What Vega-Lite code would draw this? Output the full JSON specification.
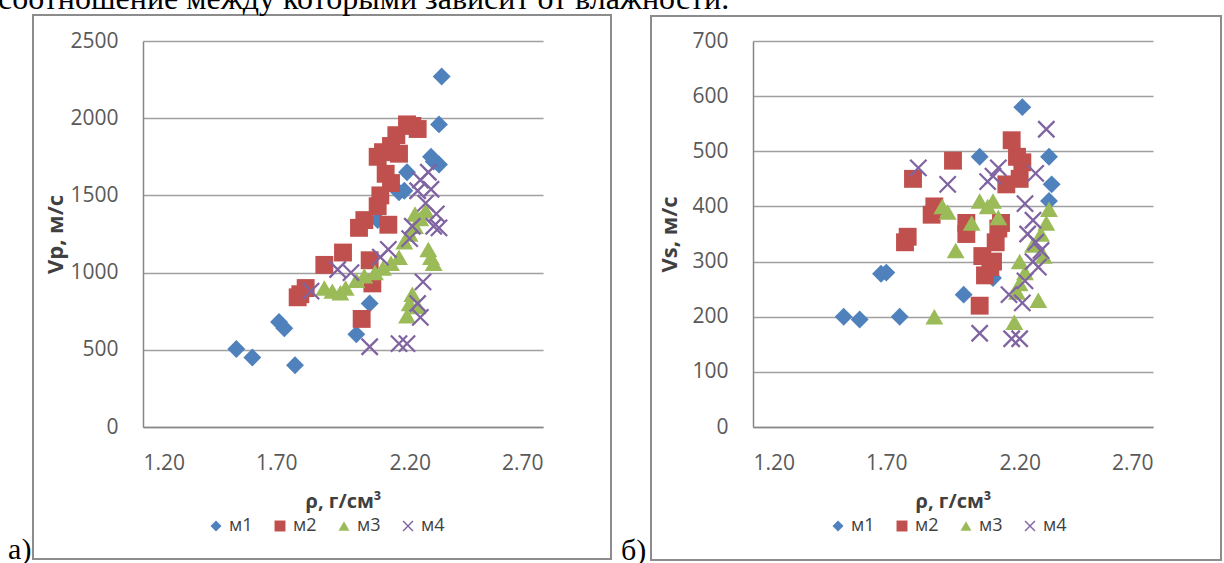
{
  "$schema": "https://vega.github.io/schema/vega-lite/v6.json",
  "padding": {"left": -2, "top": -17, "right": 0, "bottom": 0},
  "background": "white",
  "title": {
    "text": "соотношение между которыми зависит от влажности.",
    "font": "Liberation Serif",
    "fontSize": 32,
    "fontWeight": "normal",
    "color": "#000000",
    "anchor": "start",
    "frame": "bounds",
    "baseline": "alphabetic",
    "offset": -27,
    "dx": -10
  },
  "spacing": 9,
  "datasets": {
    "vp": [
      {"rho": 1.55, "v": 505, "series": "м1"}, {"rho": 1.61, "v": 450, "series": "м1"}, {"rho": 1.71, "v": 680, "series": "м1"}, {"rho": 1.73, "v": 640, "series": "м1"}, {"rho": 1.77, "v": 400, "series": "м1"}, {"rho": 2.0, "v": 600, "series": "м1"}, {"rho": 2.05, "v": 800, "series": "м1"}, {"rho": 2.08, "v": 1340, "series": "м1"}, {"rho": 2.16, "v": 1520, "series": "м1"}, {"rho": 2.18, "v": 1530, "series": "м1"}, {"rho": 2.19, "v": 1650, "series": "м1"}, {"rho": 2.29, "v": 1720, "series": "м1"}, {"rho": 2.31, "v": 1700, "series": "м1"}, {"rho": 2.28, "v": 1750, "series": "м1"}, {"rho": 2.31, "v": 1960, "series": "м1"}, {"rho": 2.32, "v": 2270, "series": "м1"},
      {"rho": 1.78, "v": 840, "series": "м2"}, {"rho": 1.79, "v": 860, "series": "м2"}, {"rho": 1.81, "v": 900, "series": "м2"}, {"rho": 1.88, "v": 1050, "series": "м2"}, {"rho": 1.95, "v": 1130, "series": "м2"}, {"rho": 2.01, "v": 1290, "series": "м2"}, {"rho": 2.02, "v": 700, "series": "м2"}, {"rho": 2.03, "v": 1340, "series": "м2"}, {"rho": 2.05, "v": 1080, "series": "м2"}, {"rho": 2.06, "v": 930, "series": "м2"}, {"rho": 2.08, "v": 1430, "series": "м2"}, {"rho": 2.08, "v": 1750, "series": "м2"}, {"rho": 2.09, "v": 1500, "series": "м2"}, {"rho": 2.1, "v": 1780, "series": "м2"}, {"rho": 2.11, "v": 1640, "series": "м2"}, {"rho": 2.12, "v": 1310, "series": "м2"}, {"rho": 2.13, "v": 1580, "series": "м2"}, {"rho": 2.13, "v": 1820, "series": "м2"}, {"rho": 2.15, "v": 1890, "series": "м2"}, {"rho": 2.16, "v": 1770, "series": "м2"}, {"rho": 2.19, "v": 1960, "series": "м2"}, {"rho": 2.21, "v": 1950, "series": "м2"}, {"rho": 2.23, "v": 1930, "series": "м2"},
      {"rho": 1.88, "v": 900, "series": "м3"}, {"rho": 1.91, "v": 880, "series": "м3"}, {"rho": 1.94, "v": 870, "series": "м3"}, {"rho": 1.96, "v": 900, "series": "м3"}, {"rho": 2.0, "v": 950, "series": "м3"}, {"rho": 2.03, "v": 980, "series": "м3"}, {"rho": 2.07, "v": 1000, "series": "м3"}, {"rho": 2.1, "v": 1030, "series": "м3"}, {"rho": 2.13, "v": 1060, "series": "м3"}, {"rho": 2.16, "v": 1100, "series": "м3"}, {"rho": 2.18, "v": 1200, "series": "м3"}, {"rho": 2.2, "v": 1250, "series": "м3"}, {"rho": 2.22, "v": 1300, "series": "м3"}, {"rho": 2.24, "v": 1350, "series": "м3"}, {"rho": 2.26, "v": 1400, "series": "м3"}, {"rho": 2.22, "v": 1380, "series": "м3"}, {"rho": 2.27, "v": 1150, "series": "м3"}, {"rho": 2.28, "v": 1100, "series": "м3"}, {"rho": 2.29, "v": 1060, "series": "м3"}, {"rho": 2.2, "v": 800, "series": "м3"}, {"rho": 2.19, "v": 720, "series": "м3"}, {"rho": 2.21, "v": 860, "series": "м3"}, {"rho": 2.23, "v": 780, "series": "м3"},
      {"rho": 1.83, "v": 880, "series": "м4"}, {"rho": 1.93, "v": 1020, "series": "м4"}, {"rho": 1.98, "v": 1000, "series": "м4"}, {"rho": 2.05, "v": 520, "series": "м4"}, {"rho": 2.09, "v": 1100, "series": "м4"}, {"rho": 2.12, "v": 1150, "series": "м4"}, {"rho": 2.16, "v": 540, "series": "м4"}, {"rho": 2.19, "v": 540, "series": "м4"}, {"rho": 2.2, "v": 1220, "series": "м4"}, {"rho": 2.21, "v": 1300, "series": "м4"}, {"rho": 2.23, "v": 1530, "series": "м4"}, {"rho": 2.23, "v": 800, "series": "м4"}, {"rho": 2.24, "v": 710, "series": "м4"}, {"rho": 2.24, "v": 1600, "series": "м4"}, {"rho": 2.25, "v": 940, "series": "м4"}, {"rho": 2.26, "v": 1450, "series": "м4"}, {"rho": 2.27, "v": 1650, "series": "м4"}, {"rho": 2.28, "v": 1540, "series": "м4"}, {"rho": 2.29, "v": 1300, "series": "м4"}, {"rho": 2.3, "v": 1380, "series": "м4"}, {"rho": 2.31, "v": 1290, "series": "м4"}
    ],
    "vs": [
      {"rho": 1.54, "v": 200, "series": "м1"}, {"rho": 1.6, "v": 195, "series": "м1"}, {"rho": 1.68, "v": 278, "series": "м1"}, {"rho": 1.7, "v": 280, "series": "м1"}, {"rho": 1.75, "v": 200, "series": "м1"}, {"rho": 1.99, "v": 240, "series": "м1"}, {"rho": 2.05, "v": 490, "series": "м1"}, {"rho": 2.1, "v": 270, "series": "м1"}, {"rho": 2.21, "v": 580, "series": "м1"}, {"rho": 2.31, "v": 490, "series": "м1"}, {"rho": 2.32, "v": 440, "series": "м1"}, {"rho": 2.31, "v": 410, "series": "м1"},
      {"rho": 1.77, "v": 335, "series": "м2"}, {"rho": 1.78, "v": 345, "series": "м2"}, {"rho": 1.8, "v": 450, "series": "м2"}, {"rho": 1.87, "v": 385, "series": "м2"}, {"rho": 1.88, "v": 400, "series": "м2"}, {"rho": 1.95, "v": 483, "series": "м2"}, {"rho": 2.0, "v": 350, "series": "м2"}, {"rho": 2.0, "v": 370, "series": "м2"}, {"rho": 2.05, "v": 220, "series": "м2"}, {"rho": 2.06, "v": 310, "series": "м2"}, {"rho": 2.07, "v": 275, "series": "м2"}, {"rho": 2.09, "v": 290, "series": "м2"}, {"rho": 2.1, "v": 300, "series": "м2"}, {"rho": 2.11, "v": 335, "series": "м2"}, {"rho": 2.12, "v": 360, "series": "м2"}, {"rho": 2.13, "v": 370, "series": "м2"}, {"rho": 2.15, "v": 440, "series": "м2"}, {"rho": 2.17, "v": 520, "series": "м2"}, {"rho": 2.19, "v": 490, "series": "м2"}, {"rho": 2.2, "v": 450, "series": "м2"}, {"rho": 2.21, "v": 480, "series": "м2"},
      {"rho": 1.88, "v": 200, "series": "м3"}, {"rho": 1.91, "v": 400, "series": "м3"}, {"rho": 1.93, "v": 390, "series": "м3"}, {"rho": 1.96, "v": 320, "series": "м3"}, {"rho": 2.02, "v": 370, "series": "м3"}, {"rho": 2.05, "v": 410, "series": "м3"}, {"rho": 2.08, "v": 400, "series": "м3"}, {"rho": 2.1, "v": 410, "series": "м3"}, {"rho": 2.12, "v": 380, "series": "м3"}, {"rho": 2.18, "v": 190, "series": "м3"}, {"rho": 2.19, "v": 245, "series": "м3"}, {"rho": 2.2, "v": 260, "series": "м3"}, {"rho": 2.2, "v": 300, "series": "м3"}, {"rho": 2.22, "v": 280, "series": "м3"}, {"rho": 2.25, "v": 330, "series": "м3"}, {"rho": 2.27, "v": 230, "series": "м3"}, {"rho": 2.28, "v": 350, "series": "м3"}, {"rho": 2.3, "v": 370, "series": "м3"}, {"rho": 2.31, "v": 395, "series": "м3"}, {"rho": 2.29, "v": 310, "series": "м3"},
      {"rho": 1.82, "v": 470, "series": "м4"}, {"rho": 1.93, "v": 440, "series": "м4"}, {"rho": 2.05, "v": 170, "series": "м4"}, {"rho": 2.08, "v": 445, "series": "м4"}, {"rho": 2.1, "v": 455, "series": "м4"}, {"rho": 2.12, "v": 470, "series": "м4"}, {"rho": 2.16, "v": 240, "series": "м4"}, {"rho": 2.17, "v": 160, "series": "м4"}, {"rho": 2.2, "v": 160, "series": "м4"}, {"rho": 2.21, "v": 225, "series": "м4"}, {"rho": 2.22, "v": 265, "series": "м4"}, {"rho": 2.22, "v": 405, "series": "м4"}, {"rho": 2.23, "v": 350, "series": "м4"}, {"rho": 2.25, "v": 375, "series": "м4"}, {"rho": 2.26, "v": 335, "series": "м4"}, {"rho": 2.26, "v": 460, "series": "м4"}, {"rho": 2.27, "v": 290, "series": "м4"}, {"rho": 2.28, "v": 320, "series": "м4"}, {"rho": 2.3, "v": 540, "series": "м4"}, {"rho": 2.25, "v": 300, "series": "м4"}
    ]
  },
  "hconcat": [
    {
      "width": 400,
      "height": 386,
      "layer": [
        {
          "data": {"values": [{}]},
          "mark": {"type": "rect", "filled": false, "stroke": "#8c8c8c", "strokeWidth": 2},
          "encoding": {
            "x": {"datum": 0.7875, "type": "quantitative"},
            "x2": {"datum": 2.955},
            "y": {"datum": 2668, "type": "quantitative"},
            "y2": {"datum": -855}
          }
        },
        {
          "data": {"values": [{}]},
          "mark": {"type": "text", "text": "а)", "font": "Liberation Serif", "fontSize": 30, "align": "left", "baseline": "alphabetic", "color": "#000000"},
          "encoding": {
            "x": {"datum": 0.694, "type": "quantitative"},
            "y": {"datum": -855, "type": "quantitative"}
          }
        },
        {
          "data": {"name": "vp"},
          "mark": {"type": "point", "filled": true, "size": 320, "opacity": 1, "strokeWidth": 0},
          "encoding": {
            "x": {"field": "rho", "type": "quantitative", "scale": {"domain": [1.2, 2.7], "nice": false, "zero": false}, "axis": {"values": [1.2, 1.7, 2.2, 2.7], "format": ".2f", "title": "ρ, г/см³", "grid": false, "labelPadding": 25, "titlePadding": 18}},
            "y": {"field": "v", "type": "quantitative", "scale": {"domain": [0, 2500], "nice": false, "zero": false}, "axis": {"values": [0, 500, 1000, 1500, 2000, 2500], "format": "d", "title": "Vp, м/с", "grid": true, "labelPadding": 25, "titlePadding": 2, "titleFontSize": 22}},
            "color": {"field": "series", "type": "nominal", "scale": {"domain": ["м1", "м2", "м3", "м4"], "range": ["#4F81BD", "#C0504D", "#9BBB59", "#8064A2"]}, "legend": {"orient": "none", "legendX": 64, "legendY": 476, "direction": "horizontal", "title": null}},
            "shape": {"field": "series", "type": "nominal", "scale": {"domain": ["м1", "м2", "м3", "м4"], "range": ["diamond", "square", "triangle-up", "M-0.82,-1L1,0.82L0.82,1L-1,-0.82ZM0.82,-1L1,-0.82L-0.82,1L-1,0.82Z"]}, "legend": {"orient": "none", "legendX": 64, "legendY": 476, "direction": "horizontal", "title": null}}
          }
        }
      ]
    },
    {
      "width": 400,
      "height": 386,
      "layer": [
        {
          "data": {"values": [{}]},
          "mark": {"type": "rect", "filled": false, "stroke": "#8c8c8c", "strokeWidth": 2},
          "encoding": {
            "x": {"datum": 0.8175, "type": "quantitative"},
            "x2": {"datum": 2.955},
            "y": {"datum": 745.3, "type": "quantitative"},
            "y2": {"datum": -241.2}
          }
        },
        {
          "data": {"values": [{}]},
          "mark": {"type": "text", "text": "б)", "font": "Liberation Serif", "fontSize": 30, "align": "left", "baseline": "alphabetic", "color": "#000000"},
          "encoding": {
            "x": {"datum": 0.705, "type": "quantitative"},
            "y": {"datum": -241.2, "type": "quantitative"}
          }
        },
        {
          "data": {"name": "vs"},
          "mark": {"type": "point", "filled": true, "size": 320, "opacity": 1, "strokeWidth": 0},
          "encoding": {
            "x": {"field": "rho", "type": "quantitative", "scale": {"domain": [1.2, 2.7], "nice": false, "zero": false}, "axis": {"values": [1.2, 1.7, 2.2, 2.7], "format": ".2f", "title": "ρ, г/см³", "grid": false, "labelPadding": 25, "titlePadding": 18}},
            "y": {"field": "v", "type": "quantitative", "scale": {"domain": [0, 700], "nice": false, "zero": false}, "axis": {"values": [0, 100, 200, 300, 400, 500, 600, 700], "format": "d", "title": "Vs, м/с", "grid": true, "labelPadding": 25, "titlePadding": 10, "titleFontSize": 22}},
            "color": {"field": "series", "type": "nominal", "scale": {"domain": ["м1", "м2", "м3", "м4"], "range": ["#4F81BD", "#C0504D", "#9BBB59", "#8064A2"]}, "legend": {"orient": "none", "legendX": 76, "legendY": 476, "direction": "horizontal", "title": null}},
            "shape": {"field": "series", "type": "nominal", "scale": {"domain": ["м1", "м2", "м3", "м4"], "range": ["diamond", "square", "triangle-up", "M-0.82,-1L1,0.82L0.82,1L-1,-0.82ZM0.82,-1L1,-0.82L-0.82,1L-1,0.82Z"]}, "legend": {"orient": "none", "legendX": 76, "legendY": 476, "direction": "horizontal", "title": null}}
          }
        }
      ]
    }
  ],
  "resolve": {"scale": {"color": "independent", "shape": "independent"}, "legend": {"color": "independent", "shape": "independent"}},
  "config": {
    "view": {"stroke": null},
    "axis": {
      "labelFont": "Open Sans", "labelFontSize": 21, "labelColor": "#595959",
      "titleFont": "Open Sans", "titleFontSize": 20, "titleFontWeight": "bold", "titleColor": "#404040",
      "ticks": false, "domainColor": "#868686", "domainWidth": 1.5, "gridColor": "#a0a0a0", "gridWidth": 1.3
    },
    "legend": {
      "labelFont": "Open Sans", "labelFontSize": 18, "labelColor": "#404040",
      "symbolSize": 120, "symbolStrokeWidth": 0, "columnPadding": 18
    }
  }
}
